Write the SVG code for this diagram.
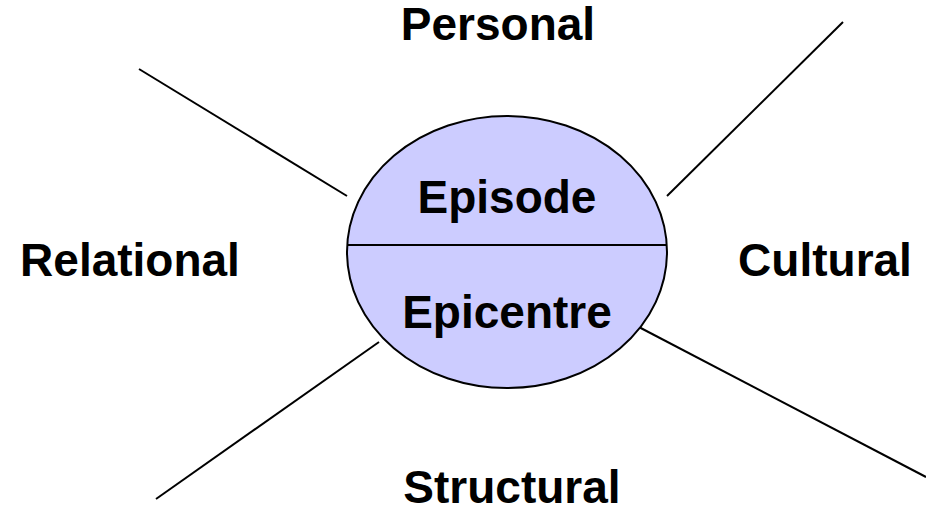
<svg xmlns="http://www.w3.org/2000/svg" width="926" height="512" viewBox="0 0 926 512">
<style>
text{font-family:"Liberation Sans",Arial,sans-serif;font-weight:bold;font-size:46px;fill:#000;text-anchor:middle}
.ln{stroke:#000;stroke-width:2;fill:none}
</style>
<rect width="926" height="512" fill="#fff"/>
<g id="connectors">
<line class="ln" x1="139" y1="69" x2="347" y2="196"/>
<line class="ln" x1="667" y1="196" x2="843" y2="22"/>
<line class="ln" x1="379" y1="342" x2="156" y2="499"/>
<line class="ln" x1="635" y1="325" x2="926" y2="477"/>
</g>
<g id="center">
<ellipse cx="507" cy="252" rx="160" ry="136" fill="#CCCCFF" stroke="#000" stroke-width="2"/>
<line class="ln" x1="347" y1="245" x2="667" y2="245"/>
<text x="507" y="213">Episode</text>
<text x="507" y="328">Epicentre</text>
</g>
<g id="personal"><text x="498" y="40">Personal</text></g>
<g id="relational"><text x="130" y="276">Relational</text></g>
<g id="cultural"><text x="825" y="276">Cultural</text></g>
<g id="structural"><text x="512" y="503">Structural</text></g>
</svg>
